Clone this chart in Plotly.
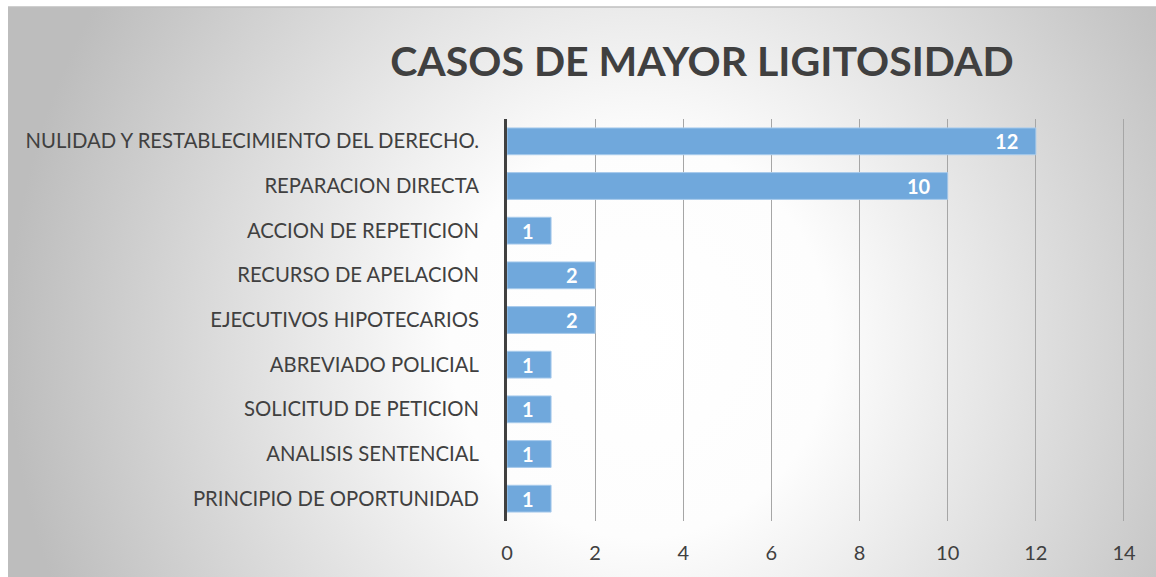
import plotly.graph_objects as go

W, H = 1156, 577

title_text = "CASOS DE MAYOR LIGITOSIDAD"
categories = [
    "NULIDAD Y RESTABLECIMIENTO DEL DERECHO.",
    "REPARACION DIRECTA",
    "ACCION DE REPETICION",
    "RECURSO DE APELACION",
    "EJECUTIVOS HIPOTECARIOS",
    "ABREVIADO POLICIAL",
    "SOLICITUD DE PETICION",
    "ANALISIS SENTENCIAL",
    "PRINCIPIO DE OPORTUNIDAD",
]
values = [12, 10, 1, 2, 2, 1, 1, 1, 1]
x_ticks = [0, 2, 4, 6, 8, 10, 12, 14]

FONT = "Lato"
TXT = "#404040"

fig = go.Figure()

# background panel with radial gradient (decoration)
fig.add_trace(go.Scatter(
    x=[8, 1272, 1272, 8, 8], y=[-320, -320, 1000, 1000, -320],
    mode="lines", line=dict(width=0), fill="toself",
    fillgradient=dict(type="radial",
                      colorscale=[[0, "#ffffff"], [0.3, "#fdfdfd"], [1, "#bdbdbd"]]),
    hoverinfo="skip", showlegend=False, xaxis="x", yaxis="y",
))

fig.add_trace(go.Bar(
    x=values, y=categories, orientation="h",
    marker=dict(color="#70a8dc", line=dict(color="#a8cbec", width=1)),
    width=0.6,
    text=[f"{v}\u00a0\u00a0\u00a0" for v in values],
    textposition="inside", insidetextanchor="end", constraintext="none",
    textfont=dict(family=FONT, size=20, color="white", weight="bold"),
    hoverinfo="skip", showlegend=False, xaxis="x2", yaxis="y2",
))

fig.update_layout(
    width=W, height=H,
    margin=dict(l=0, r=0, t=0, b=0, autoexpand=False),
    paper_bgcolor="white",
    plot_bgcolor="rgba(0,0,0,0)",
    xaxis=dict(domain=[8 / W, 1], range=[8, W], visible=False, fixedrange=True,
               automargin=False),
    yaxis=dict(domain=[0, 1 - 7 / H], range=[H, 7], visible=False, fixedrange=True,
               automargin=False),
    xaxis2=dict(
        domain=[507 / W, 1137.2 / W], range=[0, 14.3], tickvals=x_ticks,
        anchor="y2", showgrid=True, gridcolor="#a6a6a6", gridwidth=1,
        zeroline=False, showline=False, automargin=False,
        ticks="outside", ticklen=14, tickcolor="rgba(0,0,0,0)",
        tickfont=dict(family=FONT, size=20, color=TXT),
    ),
    yaxis2=dict(
        domain=[1 - 521 / H, 1 - 119 / H], anchor="x2",
        categoryorder="array", categoryarray=categories,
        autorange="reversed", automargin=False,
        showline=True, linecolor="#404040", linewidth=3,
        showgrid=False,
        ticks="outside", ticklen=21, tickcolor="rgba(0,0,0,0)",
        tickfont=dict(family=FONT, size=20.3, color=TXT),
    ),
    title=dict(text=title_text, x=702 / W, xanchor="center",
               y=1 - 62 / H, yanchor="middle",
               font=dict(family=FONT, size=41, color=TXT, weight="bold")),
    shapes=[dict(type="line", xref="paper", yref="paper",
                 x0=8 / W, x1=1, y0=1 - 7 / H, y1=1 - 7 / H,
                 line=dict(color="#bfbfbf", width=1.5))],
)

fig.write_html("out.html")
